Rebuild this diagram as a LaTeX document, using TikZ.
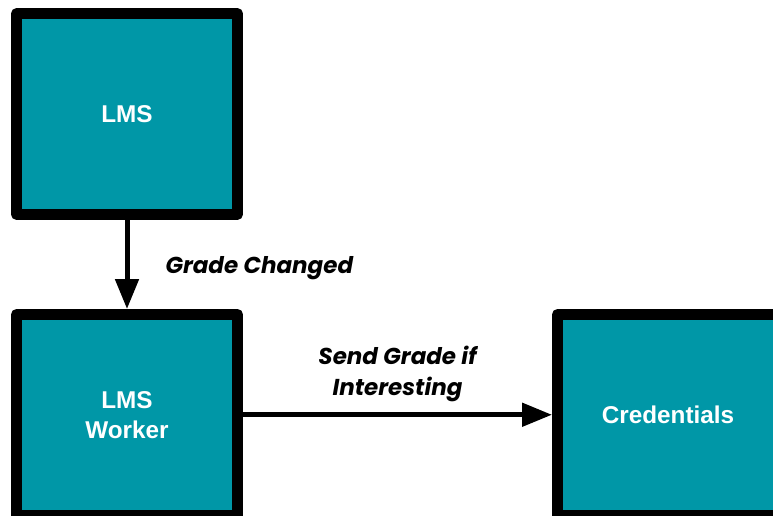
\documentclass[tikz,border=0pt]{standalone}
\usepackage{fontspec}
\usepackage{tikz}
\usetikzlibrary{positioning,arrows.meta}
\newfontfamily\boxfont{Liberation Sans}
\newfontfamily\notefont{Poppins}
\definecolor{tealbox}{RGB}{0,151,167}
\tikzset{
  box/.style={rectangle, draw=black, fill=tealbox, line width=11pt, line join=round,
    minimum width=221pt, minimum height=200.5pt, inner sep=0pt, align=center,
    text=white, font=\boxfont\bfseries\fontsize{24.3}{30}\selectfont},
  flow/.style={draw=black, line width=5pt, -{Triangle[width=23pt,length=30pt]}},
  note/.style={font=\notefont\bfseries\itshape\fontsize{23}{31}\selectfont, align=center, inner sep=3pt}
}

\begin{document}
\begin{tikzpicture}[x=1pt, y=-1pt, node distance=88pt and 309pt]
    \useasboundingbox (0,0) rectangle (773,515);
    \clip (0,0) rectangle (773,515);

    \node[box] (lms) at (127,114) {LMS};
    \node[box, below=of lms, yshift=-1.25pt] (worker) {LMS\\Worker};
    \node[box, right=of worker] (cred) {Credentials};

    \draw[flow] (lms) -- node[note, right=33pt, yshift=-4pt] {Grade Changed} (worker);
    \draw[flow] (worker) -- node[note, above=7pt] {Send Grade if\\Interesting} (cred);
\end{tikzpicture}
\end{document}
